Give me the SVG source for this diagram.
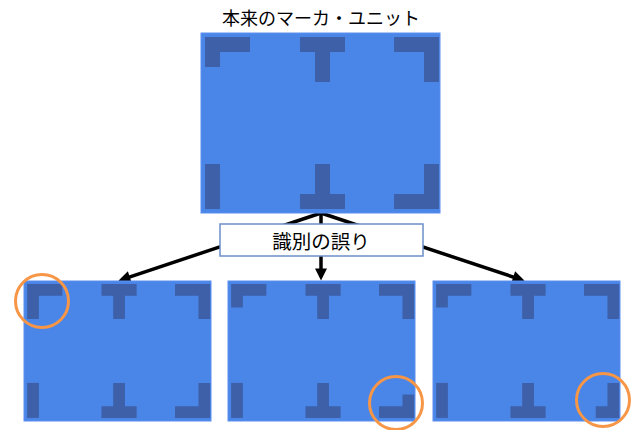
<svg xmlns="http://www.w3.org/2000/svg" width="632" height="430" viewBox="0 0 632 430">
<style>
.box{fill:#4a86e8;stroke:#5a8ff0;stroke-width:1}
.mk{fill:#3d60a8}
.ring{fill:none;stroke:#f79646;stroke-width:3}
.conn{stroke:#000;stroke-width:3.5;fill:none}
.t{font-family:"Noto Sans CJK JP","Noto Sans",sans-serif;font-size:18px;fill:#000;text-anchor:middle}
.lbl{fill:#fff;stroke:#6a8fc8;stroke-width:1.5}
</style>
<defs>
<marker id="ah" viewBox="0 0 10 10" markerUnits="userSpaceOnUse" markerWidth="14" markerHeight="12" refX="7" refY="5" orient="auto">
<path d="M0,0 L10,5 L0,10 z" fill="#000"/>
</marker>
<path id="tl" d="M4,4 H49 V19 H19 V34 H4 Z"/>
<path id="tt" d="M99,4 H144 V19 H129 V49 H114 V19 H99 Z"/>
<path id="tr" d="M193,4 H238 V49 H223 V19 H193 Z"/>
<path id="bl" d="M4,131 H19 V176 H4 Z"/>
<path id="bt" d="M114,131 H129 V161 H144 V176 H99 V161 H114 Z"/>
<path id="br" d="M223,131 H238 V176 H193 V161 H223 Z"/>
</defs>
<g id="title"><text class="t" x="321" y="25">本来のマーカ・ユニット</text></g>
<g id="connectors">
<line class="conn" x1="321" y1="213" x2="121.8" y2="279.7" marker-end="url(#ah)"/>
<line class="conn" x1="321" y1="213" x2="321" y2="277" marker-end="url(#ah)"/>
<line class="conn" x1="321" y1="213" x2="521.2" y2="279.7" marker-end="url(#ah)"/>
</g>
<g id="original">
<rect class="box" x="201" y="33" width="239" height="180"/>
<g class="mk" transform="translate(201,33)">
<use href="#tl"/><use href="#tt"/><use href="#tr"/><use href="#bl"/><use href="#bt"/><use href="#br"/>
</g>
</g>
<g id="label">
<rect class="lbl" x="220" y="224" width="203" height="32"/>
<text class="t" x="321" y="249" style="font-size:19.5px">識別の誤り</text>
</g>
<g id="unit-left">
<rect class="box" x="24" y="281" width="187" height="140"/>
<g class="mk" transform="translate(24,281) scale(0.7824,0.7778)">
<path d="M4,4 H49 V19 H19 V49 H4 Z"/><use href="#tt"/><use href="#tr"/><use href="#bl"/><use href="#bt"/><use href="#br"/>
</g>
<circle class="ring" cx="42" cy="301" r="26.5"/>
</g>
<g id="unit-middle">
<rect class="box" x="228" y="281" width="187" height="140"/>
<g class="mk" transform="translate(228,281) scale(0.7824,0.7778)">
<use href="#tl"/><use href="#tt"/><use href="#tr"/><use href="#bl"/><use href="#bt"/><path d="M223,146 H238 V176 H193 V161 H223 Z"/>
</g>
<circle class="ring" cx="396" cy="403" r="26.5"/>
</g>
<g id="unit-right">
<rect class="box" x="433" y="281" width="187" height="140"/>
<g class="mk" transform="translate(433,281) scale(0.7824,0.7778)">
<use href="#tl"/><use href="#tt"/><use href="#tr"/><use href="#bl"/><use href="#bt"/><path d="M223,131 H238 V176 H208 V161 H223 Z"/>
</g>
<circle class="ring" cx="603" cy="400" r="26.5"/>
</g>
</svg>
